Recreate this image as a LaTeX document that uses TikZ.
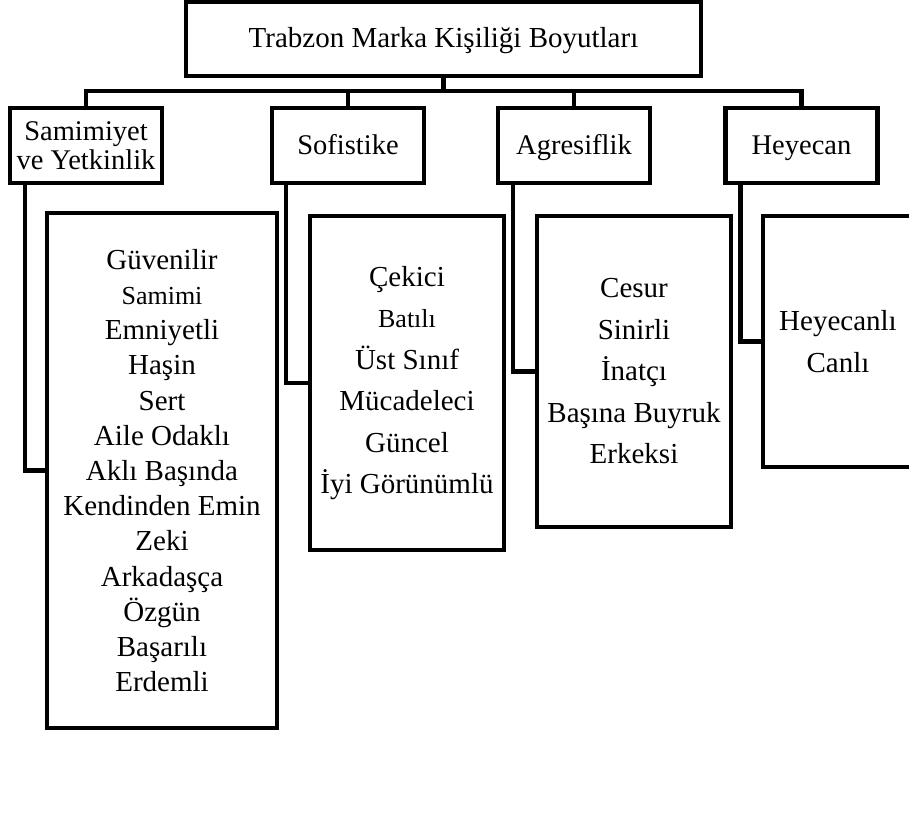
\documentclass[tikz,border=0pt]{standalone}
\usepackage{fontspec}
\setmainfont{Liberation Serif}
\begin{document}
\begin{tikzpicture}[x=1pt,y=-1pt,line width=4.5pt,
  box/.style={draw,line width=4.5pt,inner sep=0pt,outer sep=0pt,align=center,anchor=center},
  topbox/.style={box,minimum width=515pt,minimum height=74pt,text height=17pt,text depth=1pt,font=\fontsize{29}{33}\selectfont},
  catbox/.style={box,minimum width=152pt,minimum height=75pt,font=\fontsize{28.5}{29}\selectfont},
  onecat/.style={catbox,text height=19pt,text depth=1pt},
  leafbox/.style={box,font=\fontsize{29}{41.5}\selectfont},
  conn/.style={draw,line width=4.5pt}]
\useasboundingbox (0,0) rectangle (909,820);
\begin{scope}
\clip (0,0) rectangle (909,820);
\node[topbox] (top) at (443.5,39) {Trabzon Marka Kişiliği Boyutları};
\node[catbox] (sam) at (86,145.5) {Samimiyet\\ve Yetkinlik};
\node[onecat] (sof) at (348,145.5) {Sofistike};
\node[onecat] (agr) at (574,145.5) {Agresiflik};
\node[onecat] (hey) at (801.5,145.5) {Heyecan};
\node[leafbox,minimum width=230pt,minimum height=515pt,font=\fontsize{29}{35.2}\selectfont] (l1) at (162,470.5)
 {Güvenilir\\{\fontsize{26}{35.2}\selectfont Samimi}\\Emniyetli\\Haşin\\Sert\\Aile Odaklı\\Aklı Başında\\Kendinden Emin\\Zeki\\Arkadaşça\\Özgün\\Başarılı\\Erdemli};
\node[leafbox,minimum width=194pt,minimum height=334pt] (l2) at (407,383)
 {Çekici\\{\fontsize{26}{41.5}\selectfont Batılı}\\Üst Sınıf\\Mücadeleci\\Güncel\\İyi Görünümlü};
\node[leafbox,minimum width=194pt,minimum height=311pt] (l3) at (634,371.5)
 {Cesur\\Sinirli\\İnatçı\\Başına Buyruk\\Erkeksi};
\node[leafbox,minimum width=150pt,minimum height=251pt] (l4) at (838,341.5)
 {Heyecanlı\\Canlı};
\coordinate (bus) at (443.5,91);
\draw[conn] (top.south) -- (bus);
\draw[conn] (sam.north) |- (bus) -| (hey.north);
\draw[conn] (sof.north) -- (sof.north |- bus);
\draw[conn] (agr.north) -- (agr.north |- bus);
\draw[conn] ([xshift=15pt]sam.south west) |- (l1.west);
\draw[conn] ([xshift=14pt]sof.south west) |- (l2.west);
\draw[conn] ([xshift=15pt]agr.south west) |- (l3.west);
\draw[conn] ([xshift=15pt]hey.south west) |- (l4.west);
\end{scope}
\end{tikzpicture}
\end{document}
